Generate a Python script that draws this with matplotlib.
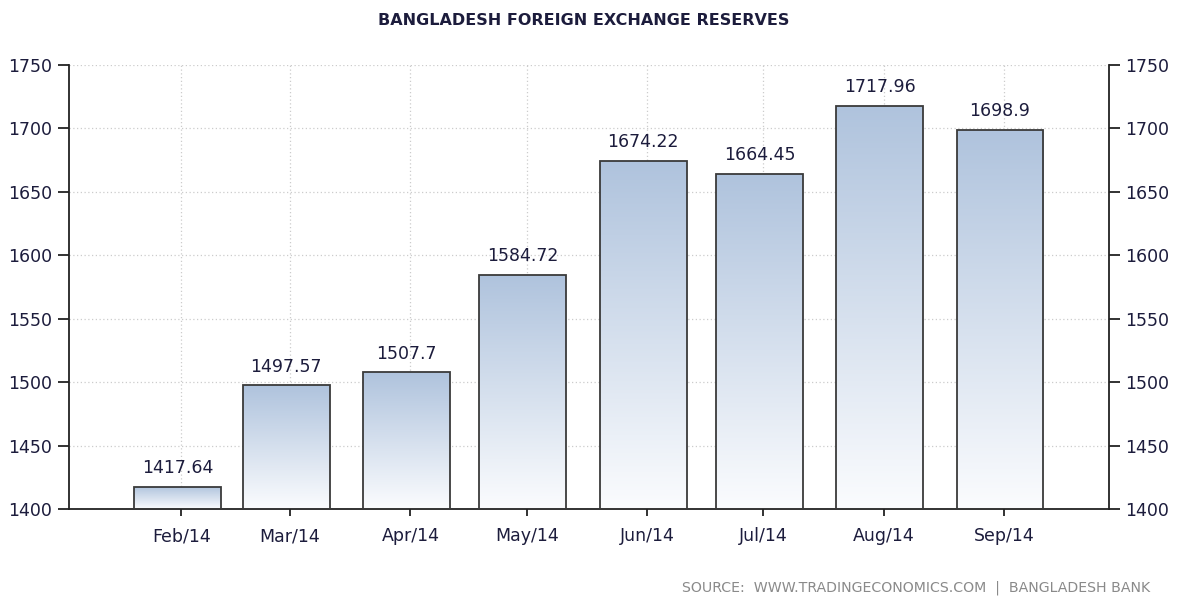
import matplotlib
matplotlib.use("Agg")
import matplotlib.pyplot as plt
import matplotlib.dates as mdates
from matplotlib.colors import LinearSegmentedColormap
import numpy as np
import datetime as dt

# dados
months = ["Feb/14", "Mar/14", "Apr/14", "May/14", "Jun/14", "Jul/14", "Aug/14", "Sep/14"]
dates = [dt.date(2014, m, 1) for m in range(2, 10)]
values = [1417.64, 1497.57, 1507.7, 1584.72, 1674.22, 1664.45, 1717.96, 1698.9]
labels = ["1417.64", "1497.57", "1507.7", "1584.72", "1674.22", "1664.45", "1717.96", "1698.9"]

txt_color = "#1c1c3c"

fig = plt.figure(figsize=(11.8, 5.97), dpi=100)
ax = fig.add_axes([69 / 1180, 88 / 597, (1108.6 - 69) / 1180, (532 - 88) / 597])

x = mdates.date2num(dates)
width = 22.4
cmap = LinearSegmentedColormap.from_list("grad", ["#fbfcfe", "#afc3dd"])
grad = np.linspace(0, 1, 256).reshape(-1, 1)

bars = ax.bar(x, [v - 1400 for v in values], bottom=1400, width=width,
              facecolor="none", edgecolor="#3a3a3a", linewidth=1.3, zorder=3)
for b, xi, v in zip(bars, x, values):
    im = ax.imshow(grad, cmap=cmap, aspect="auto", origin="lower",
                   extent=[xi - width / 2, xi + width / 2, 1400, v], zorder=2)
    im.set_clip_path(b)

for xi, v, lab in zip(x, values, labels):
    ax.annotate(lab, (xi, v), xytext=(0, 7), textcoords="offset points",
                ha="center", va="bottom", fontsize=12.5, color=txt_color)

ax.set_xlim(x[0] - 28, x[-1] + 28)
ax.set_ylim(1400, 1750)
ax.set_yticks(np.arange(1400, 1751, 50))
ax.set_xticks(x + 1)
ax.set_xticklabels(months)

ax.grid(True, color="#cccccc", linestyle=(0, (1, 2)), linewidth=0.9, zorder=0)
ax.set_axisbelow(True)

ax.spines["top"].set_visible(False)
for s in ["left", "right", "bottom"]:
    ax.spines[s].set_color("#222222")
    ax.spines[s].set_linewidth(1.3)

ax.tick_params(axis="y", which="both", left=True, right=True, labelleft=True, labelright=True,
               length=8, width=1.3, color="#222222", labelsize=12.5, labelcolor=txt_color, pad=4)
ax.tick_params(axis="x", length=5, width=1.3, color="#222222", labelsize=12.5,
               labelcolor=txt_color, pad=8)

fig.text(0.495, 0.965, "BANGLADESH FOREIGN EXCHANGE RESERVES", ha="center", va="center",
         fontsize=11.5, fontweight="bold", color=txt_color)
fig.text(1150 / 1180, 1 - 588 / 597, "SOURCE:  WWW.TRADINGECONOMICS.COM  |  BANGLADESH BANK",
         ha="right", va="center", fontsize=10.2, color="#8a8a8a")

fig.savefig("out.png", dpi=100)
